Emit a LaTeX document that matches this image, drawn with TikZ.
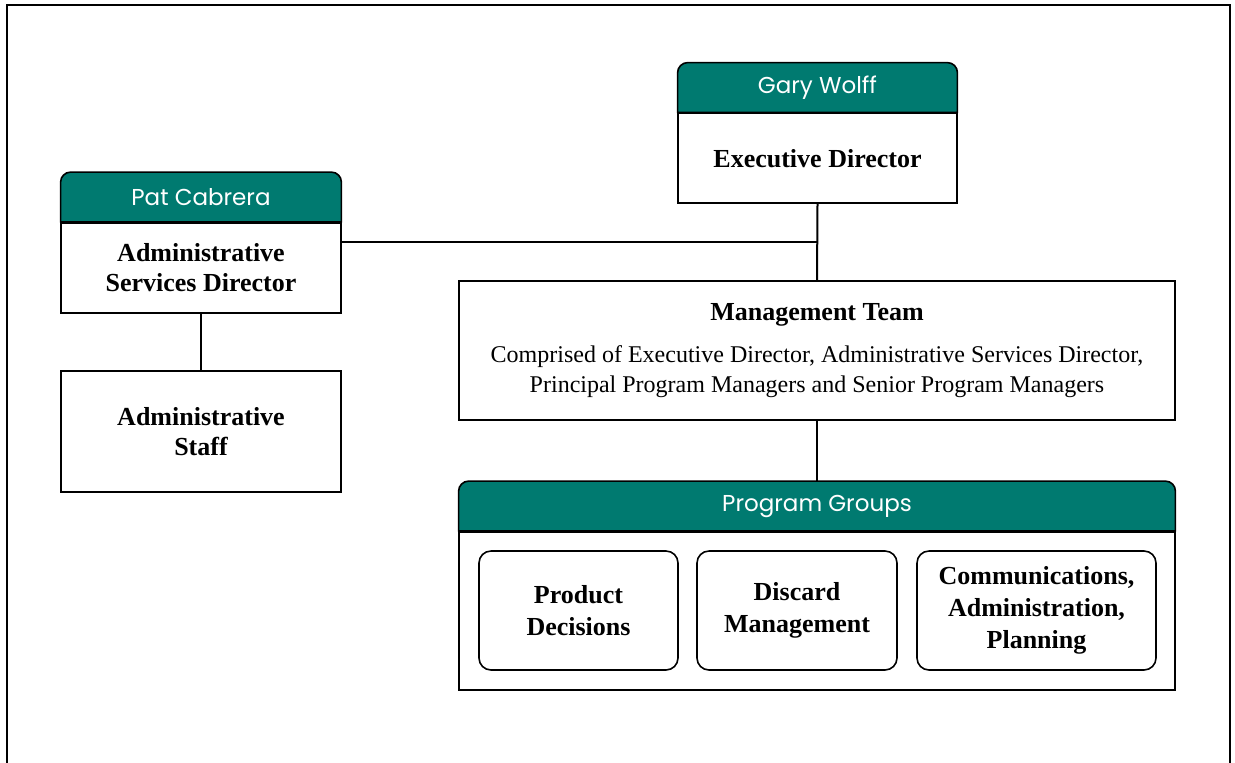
\documentclass[tikz,border=0pt]{standalone}
\usepackage{fontspec}
\setmainfont{Liberation Serif}
\newfontfamily\barfont{Poppins}
\usetikzlibrary{positioning}
\definecolor{barteal}{RGB}{0,122,112}
\pgfdeclarelayer{bg}
\pgfsetlayers{bg,main}
\newcommand{\noterm}{\mdseries\fontsize{12}{15}\selectfont}
\tikzset{
  namebar/.style={text=white, font=\barfont\fontsize{11.5}{13}\selectfont, minimum height=24.5pt, inner sep=0pt},
  rolebox/.style={draw, line width=0.8pt, align=center, font=\bfseries\fontsize{13}{15}\selectfont, inner sep=0pt},
  unitbox/.style={draw, line width=0.8pt, rounded corners=6pt, align=center, font=\bfseries\fontsize{13}{16}\selectfont, minimum height=59.5pt, inner sep=0pt},
  link/.style={line width=1pt}
}
\begin{document}
\begin{tikzpicture}[x=0.5pt, y=-0.5pt]

\useasboundingbox (0,0) rectangle (1235,762);
\draw[line width=0.9pt] (7,775) -- (7,5) -- (1230,5) -- (1230,775);

% executive director
\node[namebar, minimum width=139.5pt] (gary) at (817.5,87.5) {Gary Wolff};
\node[rolebox, minimum width=139.5pt, minimum height=45pt, anchor=north] (exec) at (gary.south) {Executive Director};

% administrative side
\node[namebar, minimum width=140pt] (pat) at (201,197) {Pat Cabrera};
\node[rolebox, minimum width=140pt, minimum height=45pt, anchor=north] (asd) at (pat.south) {Administrative\\Services Director};
\node[rolebox, minimum width=140pt, minimum height=60.5pt] (staff) at (201,431.5) {Administrative\\Staff};

% management team
\node[rolebox, minimum width=358pt, minimum height=69.5pt] (mgmt) at (817,350.5) {Management Team\\[6pt]
  \noterm Comprised of Executive Director, Administrative Services Director,\\
  \noterm Principal Program Managers and Senior Program Managers};

% program groups
\node[namebar, minimum width=358pt] (groups) at (817,506) {Program Groups};
\node[draw, line width=0.8pt, minimum width=358pt, minimum height=79pt, anchor=north] (gbody) at (groups.south) {};
\node[unitbox, minimum width=99.5pt] (product) at (578.5,610.5) {Product\\Decisions};
\node[unitbox, minimum width=100pt] (discard) at (797,610.5) {Discard\\Management};
\node[unitbox, minimum width=119.5pt] (comms) at (1036.5,610.5) {Communications,\\Administration,\\Planning};

\begin{pgfonlayer}{bg}
\foreach \bar in {gary, pat, groups}
  \draw[fill=barteal, line width=0.8pt] (\bar.south west) [rounded corners=5pt] -- (\bar.north west) -- (\bar.north east) [sharp corners] -- (\bar.south east) -- cycle;
\end{pgfonlayer}

% connectors
\coordinate (tee) at (817,242);
\draw[link] (exec.south) -- (mgmt.north);
\draw[link] (asd.east |- tee) -- (tee);
\draw[link] (asd.south) -- (staff.north);
\draw[link] (mgmt.south) -- (groups.north);

\end{tikzpicture}
\end{document}
